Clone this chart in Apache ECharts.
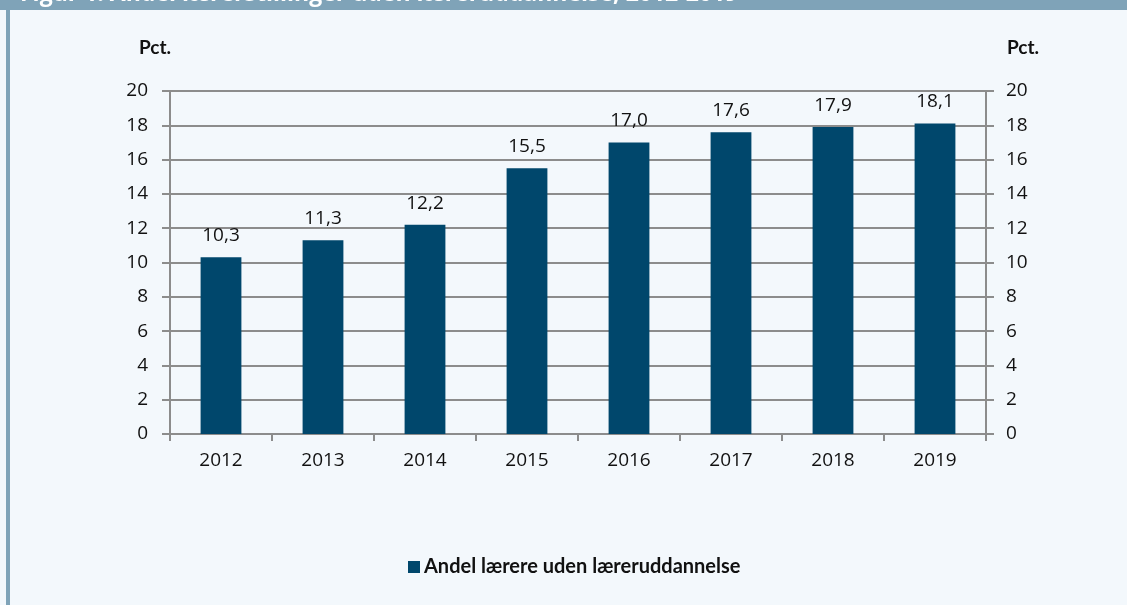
<!DOCTYPE html>
<html><head><meta charset="utf-8">
<script src="https://cdn.jsdelivr.net/npm/echarts@6/dist/echarts.min.js"></script>
<style>html,body{margin:0;padding:0;background:#f3f8fc;}#c{width:1127px;height:605px;}</style>
</head><body><div id="c"></div>
<script>
const categories = ['2012','2013','2014','2015','2016','2017','2018','2019'];
const values = [10.3, 11.3, 12.2, 15.5, 17.0, 17.6, 17.9, 18.1];
const seriesName = 'Andel lærere uden læreruddannelse';
const titleText = 'Figur 1. Andel lærerstillinger uden læreruddannelse, 2012-2019';
const unitLabel = 'Pct.';

const chart = echarts.init(document.getElementById('c'));
const axisLbl = {color:'#111', fontSize:19, fontFamily:'Open Sans'};
const yAxisBase = {
  type:'value', min:0, max:20, interval:2,
  axisLine:{show:true, lineStyle:{color:'#8c8c8c', width:2}},
  axisTick:{show:true, length:8, lineStyle:{color:'#8c8c8c', width:2}},
  splitLine:{show:false},
  axisLabel:Object.assign({}, axisLbl)
};
chart.setOption({
  backgroundColor:'#f3f8fc',
  animation:false,
  grid:{left:170, right:141, top:91, bottom:171, containLabel:false},
  graphic:[
    {type:'rect', shape:{x:0,y:0,width:1127,height:10}, style:{fill:'#7fa3b8'}},
    {type:'rect', shape:{x:6,y:0,width:4,height:605}, style:{fill:'#7fa3b8'}},
    {type:'text', left:20, top:-17, style:{text:titleText, fill:'#ffffff', font:'bold 23px "Open Sans"'}},
    {type:'text', left:139, top:38, style:{text:unitLabel, fill:'#111', font:'bold 19px Lato'}},
    {type:'text', left:1007, top:38, style:{text:unitLabel, fill:'#111', font:'bold 19px Lato'}}
  ],
  legend:{
    bottom:28, left:408, padding:0, itemWidth:12, itemHeight:12, itemGap:6,
    icon:'rect',
    textStyle:{color:'#111', fontSize:20, fontWeight:'bold', fontFamily:'Lato', padding:[0,0,0,-1]},
    data:[seriesName]
  },
  xAxis:{
    type:'category', data:categories,
    axisLine:{show:true, lineStyle:{color:'#8c8c8c', width:2}},
    axisTick:{show:true, alignWithLabel:false, length:7, lineStyle:{color:'#8c8c8c', width:2}},
    axisLabel:Object.assign({margin:17}, axisLbl)
  },
  yAxis:[
    Object.assign({}, yAxisBase, {position:'left', splitLine:{show:true, lineStyle:{color:'#8c8c8c', width:2}}, axisLabel:Object.assign({margin:22}, axisLbl)}),
    Object.assign({}, yAxisBase, {position:'right', axisLabel:Object.assign({margin:20}, axisLbl)})
  ],
  series:[{
    name:seriesName, type:'bar', data:values, barWidth:'40%',
    itemStyle:{color:'#00476c'},
    label:{show:true, position:'top', distance:12, color:'#111', fontSize:19, fontFamily:'Open Sans',
      formatter:p=>p.value.toFixed(1).replace('.',',')}
  }]
});
</script></body></html>
